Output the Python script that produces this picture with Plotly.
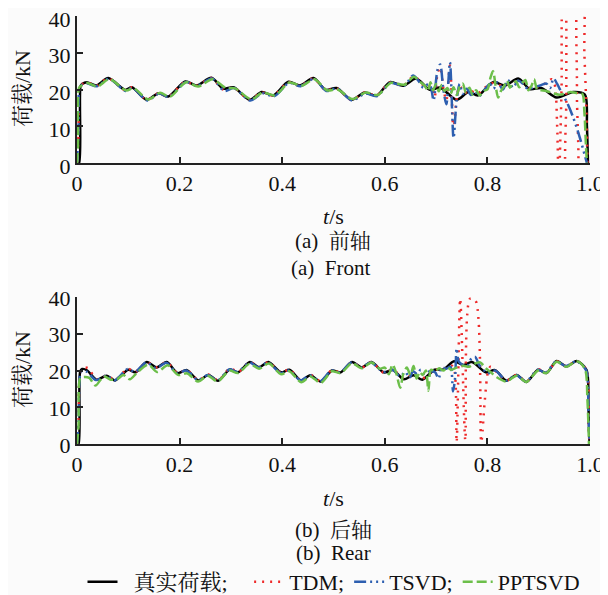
import plotly.graph_objects as go

# ---------------- data ----------------
x_ticks = [0, 0.2, 0.4, 0.6, 0.8, 1.0]
x_tick_text = ["0", "0.2", "0.4", "0.6", "0.8", "1.0"]
y_ticks = [0, 10, 20, 30, 40]
series_names = ["\u00a0\u00a0真实荷载;\u00a0\u00a0\u00a0", "TDM;", "TSVD;", "PPTSVD"]

# ---- (a) front axle ----
front_true_t = [0.000, 0.004, 0.007, 0.010, 0.019, 0.038, 0.061, 0.094, 0.107, 0.136, 0.159, 0.178,
                0.211, 0.233, 0.262, 0.285, 0.305, 0.337, 0.360, 0.383, 0.412, 0.435, 0.461, 0.485,
                0.506, 0.535, 0.561, 0.584, 0.610, 0.636, 0.661, 0.688, 0.708, 0.740, 0.763, 0.782,
                0.811, 0.835, 0.860, 0.883, 0.905, 0.935, 0.967, 0.990, 0.994, 0.996]
front_true_f = [0, 0, 21.0, 21.5, 22.0, 21.1, 23.1, 19.9, 20.6, 17.2, 19.0, 18.1,
                22.2, 21.1, 23.2, 20.2, 20.6, 17.2, 19.3, 18.4, 22.1, 21.1, 23.1, 19.9,
                20.4, 17.2, 19.2, 18.3, 22.0, 21.0, 23.0, 19.9, 20.5, 17.2, 19.3, 18.4,
                22.0, 21.1, 23.0, 20.1, 20.4, 17.8, 19.3, 18.6, 10.0, 0]

front_tdm_t = [0.000, 0.003, 0.006, 0.012, 0.020, 0.038, 0.061, 0.094, 0.107, 0.136, 0.159, 0.178,
               0.211, 0.233, 0.262, 0.286, 0.305, 0.337, 0.360, 0.383, 0.412, 0.435, 0.461, 0.485,
               0.506, 0.535, 0.561, 0.584, 0.610, 0.636, 0.655, 0.665, 0.680, 0.690, 0.697, 0.703,
               0.708, 0.714, 0.720, 0.727, 0.734, 0.740, 0.746, 0.755, 0.765, 0.780, 0.795, 0.811,
               0.830, 0.850, 0.870, 0.885, 0.900, 0.915, 0.925, 0.931, 0.936, 0.939, 0.9445, 0.948,
               0.9505, 0.954, 0.957, 0.972, 0.9745, 0.978, 0.986, 0.989, 0.9925, 0.995]
front_tdm_f = [0, 8.0, 21.2, 21.6, 21.9, 21.0, 23.0, 19.8, 20.6, 17.2, 19.0, 18.1,
               22.1, 21.0, 23.1, 19.9, 20.5, 17.2, 19.2, 18.4, 22.0, 21.0, 23.0, 19.8,
               20.3, 17.2, 19.2, 18.4, 21.9, 21.1, 23.5, 22.8, 20.5, 21.0, 18.0, 24.5,
               26.0, 20.5, 17.0, 26.5, 9.0, 17.5, 21.0, 19.0, 19.8, 18.8, 20.5, 21.8,
               21.0, 22.0, 21.8, 20.3, 20.8, 21.8, 22.8, 21.5, 10.0, -6.0, 20.0, 46.0,
               46.0, 20.0, -6.0, -6.0, 20.0, 46.0, 46.0, 30.0, 17.0, 0]

front_tsvd_t = [0.000, 0.003, 0.005, 0.010, 0.020, 0.039, 0.062, 0.095, 0.108, 0.137, 0.160, 0.179,
                0.212, 0.234, 0.263, 0.287, 0.306, 0.338, 0.361, 0.385, 0.413, 0.436, 0.462, 0.486,
                0.507, 0.536, 0.562, 0.585, 0.611, 0.637, 0.655, 0.665, 0.675, 0.685, 0.690, 0.695,
                0.703, 0.708, 0.714, 0.720, 0.727, 0.734, 0.740, 0.746, 0.752, 0.760, 0.768, 0.776,
                0.784, 0.795, 0.805, 0.812, 0.820, 0.830, 0.840, 0.850, 0.860, 0.870, 0.880, 0.890,
                0.903, 0.915, 0.922, 0.929, 0.936, 0.945, 0.955, 0.967, 0.980, 0.990, 0.994]
front_tsvd_f = [0, 10.0, 20.5, 21.3, 21.6, 20.9, 22.9, 19.6, 20.5, 17.0, 18.9, 18.0,
                22.0, 21.0, 23.0, 19.6, 20.4, 17.0, 19.0, 18.2, 21.8, 20.9, 22.9, 19.6,
                20.3, 17.0, 18.9, 18.2, 21.8, 21.0, 23.8, 22.5, 20.5, 21.5, 20.6, 17.0,
                25.5, 26.8, 20.2, 16.0, 27.4, 6.8, 17.0, 21.5, 18.8, 20.2, 18.5, 19.6,
                18.2, 20.0, 21.5, 20.2, 22.0, 20.0, 22.6, 20.5, 22.4, 21.5, 20.0, 20.6,
                21.1, 21.6, 20.4, 23.0, 21.5, 19.0, 16.5, 12.5, 7.0, 2.0, 0]

front_pptsvd_t = [0.000, 0.002, 0.004, 0.008, 0.020, 0.040, 0.063, 0.096, 0.110, 0.139, 0.162, 0.181,
                  0.213, 0.236, 0.264, 0.290, 0.308, 0.340, 0.362, 0.386, 0.414, 0.438, 0.463, 0.487,
                  0.508, 0.537, 0.563, 0.586, 0.612, 0.638, 0.657, 0.668, 0.678, 0.684, 0.689, 0.694,
                  0.700, 0.705, 0.711, 0.716, 0.722, 0.728, 0.734, 0.740, 0.746, 0.752, 0.758, 0.765,
                  0.771, 0.778, 0.785, 0.792, 0.800, 0.806, 0.811, 0.816, 0.821, 0.826, 0.832, 0.838,
                  0.844, 0.850, 0.856, 0.862, 0.868, 0.874, 0.880, 0.886, 0.891, 0.897, 0.905, 0.915,
                  0.928, 0.940, 0.950, 0.962, 0.975, 0.985, 0.989, 0.992, 0.994]
front_pptsvd_f = [0, 5.0, 20.5, 21.0, 21.8, 20.8, 22.8, 19.7, 20.4, 17.3, 19.1, 18.0,
                  22.0, 20.8, 22.8, 20.4, 20.3, 17.3, 19.2, 18.4, 21.9, 21.0, 22.8, 19.8,
                  20.0, 17.4, 19.2, 18.5, 21.8, 21.3, 23.5, 22.2, 21.0, 19.6, 22.0, 19.8,
                  21.5, 19.5, 21.2, 19.6, 20.4, 18.8, 20.6, 18.5, 20.8, 21.6, 19.2, 20.5,
                  18.6, 19.8, 18.4, 19.6, 20.0, 23.2, 25.0, 21.0, 17.8, 19.5, 20.8, 22.4,
                  20.5, 21.8, 22.2, 20.6, 21.8, 22.6, 19.8, 21.0, 22.8, 20.0, 19.8, 19.6,
                  19.0, 18.6, 18.8, 19.3, 19.0, 18.8, 14.0, 5.0, 0]

# ---- (b) rear axle ----
rear_true_t = [0.000, 0.003, 0.006, 0.010, 0.020, 0.038, 0.058, 0.074, 0.100, 0.114, 0.136, 0.155,
               0.175, 0.196, 0.214, 0.237, 0.256, 0.275, 0.298, 0.314, 0.337, 0.355, 0.373, 0.398,
               0.414, 0.437, 0.455, 0.475, 0.497, 0.514, 0.536, 0.555, 0.574, 0.598, 0.616, 0.637,
               0.656, 0.673, 0.697, 0.714, 0.735, 0.753, 0.770, 0.797, 0.815, 0.837, 0.857, 0.876,
               0.899, 0.915, 0.935, 0.954, 0.974, 0.993, 0.997, 0.999]
rear_true_f = [0, 0, 19.5, 20.4, 20.0, 17.5, 18.6, 17.3, 20.2, 19.5, 22.3, 20.8,
               22.3, 19.3, 20.1, 17.3, 18.8, 17.2, 20.3, 19.5, 22.3, 20.9, 22.3, 19.5,
               20.2, 17.3, 18.7, 17.0, 20.0, 19.5, 22.3, 20.8, 22.3, 19.5, 20.1, 17.6,
               18.7, 17.5, 20.2, 20.3, 22.5, 21.5, 22.3, 19.5, 20.1, 17.2, 18.8, 16.9,
               20.2, 19.3, 22.6, 21.1, 22.6, 20.2, 10.0, 0]

rear_tdm_t = [0.000, 0.003, 0.006, 0.012, 0.022, 0.038, 0.058, 0.074, 0.099, 0.113, 0.136, 0.155,
              0.175, 0.196, 0.214, 0.237, 0.256, 0.275, 0.298, 0.314, 0.337, 0.355, 0.373, 0.398,
              0.414, 0.437, 0.455, 0.475, 0.497, 0.514, 0.536, 0.555, 0.574, 0.598, 0.616, 0.637,
              0.656, 0.673, 0.697, 0.714, 0.728, 0.735, 0.740, 0.747, 0.757, 0.766, 0.777, 0.788,
              0.795, 0.801, 0.806, 0.815, 0.837, 0.857, 0.876, 0.899, 0.915, 0.935, 0.954, 0.974,
              0.993, 0.997, 0.999]
rear_tdm_f = [0, 7.0, 19.5, 20.8, 20.6, 17.6, 18.7, 17.4, 20.5, 19.6, 22.2, 20.9,
              22.2, 19.3, 20.1, 17.4, 18.9, 17.3, 20.6, 19.6, 22.3, 20.9, 22.2, 19.4,
              20.3, 17.3, 18.8, 17.1, 20.1, 19.5, 22.2, 20.8, 22.3, 19.4, 20.2, 17.8,
              19.0, 17.8, 20.2, 20.4, 21.5, 20.5, 0.5, 39.5, 1.0, 39.5, 39.0, 0.5,
              12.0, 19.5, 21.0, 20.0, 17.3, 18.8, 17.0, 20.3, 19.4, 22.5, 21.1, 22.5,
              20.2, 5.0, 0]

rear_tsvd_t = [0.000, 0.003, 0.006, 0.010, 0.020, 0.037, 0.057, 0.073, 0.099, 0.113, 0.135, 0.154,
               0.174, 0.195, 0.213, 0.236, 0.255, 0.274, 0.297, 0.313, 0.336, 0.354, 0.372, 0.397,
               0.413, 0.436, 0.454, 0.474, 0.496, 0.513, 0.535, 0.554, 0.573, 0.597, 0.615, 0.630,
               0.640, 0.648, 0.655, 0.663, 0.670, 0.678, 0.688, 0.698, 0.705, 0.711, 0.720, 0.728,
               0.733, 0.737, 0.740, 0.744, 0.752, 0.760, 0.769, 0.776, 0.784, 0.795, 0.800, 0.815,
               0.837, 0.856, 0.875, 0.898, 0.914, 0.934, 0.953, 0.973, 0.988, 0.994, 0.997, 0.999]
rear_tsvd_f = [0, 6.0, 19.0, 20.0, 19.6, 17.4, 18.6, 17.3, 20.4, 19.6, 22.2, 20.6,
               22.1, 19.3, 20.0, 17.4, 18.8, 17.3, 20.3, 19.6, 22.2, 20.8, 22.2, 19.3,
               20.0, 17.3, 18.7, 17.1, 20.0, 19.5, 22.2, 20.8, 22.2, 19.6, 20.2, 18.4,
               19.6, 18.0, 19.8, 19.0, 20.2, 19.0, 19.8, 19.5, 17.8, 20.8, 20.5, 21.0,
               14.3, 18.0, 26.0, 22.5, 21.5, 21.0, 23.3, 23.7, 21.5, 19.8, 19.2, 20.0,
               17.3, 18.8, 17.0, 20.2, 19.4, 22.5, 21.2, 22.5, 21.0, 19.5, 8.0, 0]

rear_pptsvd_t = [0.000, 0.003, 0.006, 0.012, 0.024, 0.036, 0.052, 0.066, 0.078, 0.090, 0.103, 0.117,
                 0.139, 0.156, 0.177, 0.197, 0.215, 0.236, 0.255, 0.274, 0.297, 0.314, 0.336, 0.355,
                 0.374, 0.398, 0.414, 0.437, 0.455, 0.475, 0.497, 0.514, 0.536, 0.555, 0.574, 0.590,
                 0.600, 0.608, 0.615, 0.622, 0.630, 0.636, 0.643, 0.650, 0.656, 0.662, 0.668, 0.674,
                 0.680, 0.685, 0.690, 0.698, 0.706, 0.714, 0.722, 0.730, 0.740, 0.753, 0.764, 0.774,
                 0.786, 0.797, 0.806, 0.818, 0.837, 0.857, 0.876, 0.899, 0.915, 0.935, 0.954, 0.974,
                 0.990, 0.995, 0.998]
rear_pptsvd_f = [0, 5.0, 17.8, 18.2, 18.0, 15.9, 18.4, 17.5, 17.6, 18.8, 17.6, 19.4,
                 21.6, 19.6, 21.4, 18.8, 19.2, 17.0, 18.6, 17.0, 20.0, 19.3, 21.8, 20.5,
                 21.9, 19.0, 19.8, 16.8, 18.4, 16.6, 19.8, 19.3, 22.0, 20.6, 22.2, 20.5,
                 20.8, 19.0, 21.6, 19.4, 15.3, 19.0, 20.8, 18.8, 21.2, 17.8, 19.6, 18.8,
                 20.0, 14.5, 20.2, 19.8, 20.6, 20.0, 20.8, 20.2, 20.8, 21.3, 21.0, 21.8,
                 22.2, 20.6, 19.6, 18.2, 17.0, 18.6, 16.9, 20.0, 19.3, 22.4, 21.0, 22.5,
                 20.5, 12.0, 0]

# ---------------- styling ----------------
OFF = 8                      # page body margin of the html page
W, H = 608 - OFF, 595 - OFF  # figure size so the figure ends at the window edge
FONT = "Liberation Serif, 'Times New Roman', 'Noto Serif CJK SC', 'Noto Sans CJK SC', serif"
colors = ["#000000", "#ee2a2a", "#2d5fb0", "#6cbf4a"]
dashes = ["solid", "2px,6px", "12px,4px,2px,4px,2px,4px", "10px,4px"]
widths = [2.5, 2.5, 2.5, 2.5]


def px_x(p):
    return (p - OFF) / W


def px_y(p):
    return 1 - (p - OFF) / H


x_dom = [px_x(77), px_x(590)]
y_dom_top = [px_y(163), px_y(16)]
y_dom_bot = [px_y(444), px_y(297)]

fig = go.Figure()

front = [(front_true_t, front_true_f), (front_tdm_t, front_tdm_f),
         (front_tsvd_t, front_tsvd_f), (front_pptsvd_t, front_pptsvd_f)]
rear = [(rear_true_t, rear_true_f), (rear_tdm_t, rear_tdm_f),
        (rear_tsvd_t, rear_tsvd_f), (rear_pptsvd_t, rear_pptsvd_f)]

for i, (t, f) in enumerate(front):
    fig.add_trace(go.Scatter(x=t, y=f, mode="lines", name=series_names[i],
                             line=dict(color=colors[i], width=widths[i], dash=dashes[i],
                                       shape="spline", smoothing=0.8),
                             xaxis="x", yaxis="y", showlegend=True))
for i, (t, f) in enumerate(rear):
    fig.add_trace(go.Scatter(x=t, y=f, mode="lines", name=series_names[i],
                             line=dict(color=colors[i], width=widths[i], dash=dashes[i],
                                       shape="spline", smoothing=0.8),
                             xaxis="x2", yaxis="y2", showlegend=False))

axis_common = dict(showline=True, linecolor="#222222", linewidth=2, showgrid=False,
                   zeroline=False, ticks="inside", ticklen=6, tickwidth=2, tickcolor="#222222",
                   automargin=False, ticklabeloverflow="allow",
                   tickfont=dict(family=FONT, size=22, color="#111111"))

fig.update_layout(
    template="none",
    width=W, height=H,
    margin=dict(l=0, r=0, t=0, b=0, pad=0, autoexpand=False),
    paper_bgcolor="#fbfbfb", plot_bgcolor="#fbfbfb",
    font=dict(family=FONT, size=22, color="#111111"),
    xaxis=dict(domain=x_dom, range=[0, 1], tickvals=x_ticks, ticktext=x_tick_text,
               anchor="y", **axis_common),
    yaxis=dict(domain=y_dom_top, range=[0, 40], tickvals=y_ticks, anchor="x",
               ticklabelshift=3, **axis_common),
    xaxis2=dict(domain=x_dom, range=[0, 1], tickvals=x_ticks, ticktext=x_tick_text,
                anchor="y2", **axis_common),
    yaxis2=dict(domain=y_dom_bot, range=[0, 40], tickvals=y_ticks, anchor="x2",
                ticklabelshift=1, **axis_common),
    legend=dict(orientation="h", x=px_x(334), xanchor="center", y=px_y(582), yanchor="middle",
                bgcolor="rgba(0,0,0,0)", font=dict(family=FONT, size=22, color="#111111"),
                itemwidth=30, tracegroupgap=0),
    showlegend=True,
)


def ann(text, x_p, y_p, angle=0, size=22):
    return dict(text=text, x=px_x(x_p), y=px_y(y_p), xref="paper", yref="paper",
                showarrow=False, xanchor="center", yanchor="middle", textangle=angle,
                font=dict(family=FONT, size=size, color="#111111"))


fig.update_layout(annotations=[
    ann("荷载/kN", 22, 89, angle=-90),
    ann("荷载/kN", 22, 370, angle=-90),
    ann("<i>t</i>/s", 333, 217),
    ann("(a)\u00a0\u00a0前轴", 333, 241, size=21),
    ann("(a)\u00a0\u00a0Front", 330, 268, size=21),
    ann("<i>t</i>/s", 333, 498),
    ann("(b)\u00a0\u00a0后轴", 333, 530, size=21),
    ann("(b)\u00a0\u00a0Rear", 333, 553, size=21),
])

fig.write_html("out.html")
